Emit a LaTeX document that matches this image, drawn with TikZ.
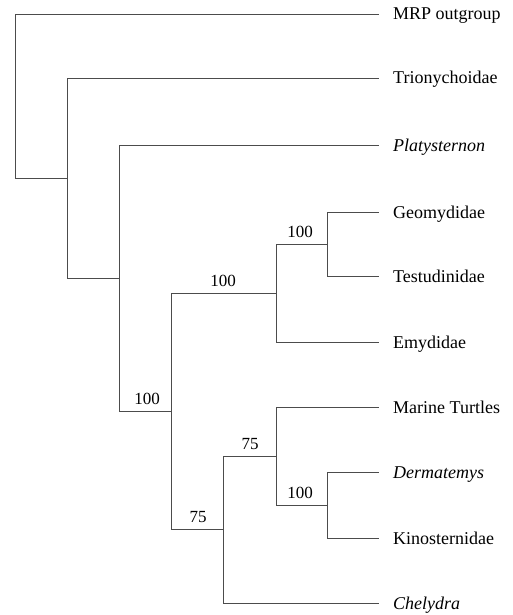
\documentclass[tikz,border=0pt]{standalone}
\usepackage{fontspec}
\setmainfont{Liberation Serif}
\begin{document}
\begin{tikzpicture}[x=1pt,y=-1pt,
  branch/.style={draw=black!70, line width=0.8pt},
  taxon/.style={anchor=base west, inner sep=0pt, font=\fontsize{18}{20}\selectfont},
  support/.style={anchor=base, inner sep=0pt, font=\fontsize{17}{19}\selectfont}]
\useasboundingbox (0,0) rectangle (513,615);
% leaf ends
\coordinate (cMRP) at (379,14);
\coordinate (cTri) at (379,78);
\coordinate (cPla) at (379,145);
\coordinate (cGeo) at (379,212);
\coordinate (cTes) at (379,276);
\coordinate (cEmy) at (379,342);
\coordinate (cMar) at (379,407);
\coordinate (cDer) at (379,472);
\coordinate (cKin) at (379,538);
\coordinate (cChe) at (379,603);
% internal nodes
\coordinate (nA) at (327,244);
\coordinate (nB) at (276,293);
\coordinate (nC) at (327,505);
\coordinate (nD) at (276,456);
\coordinate (nE) at (223,529.5);
\coordinate (nF) at (171,411);
\coordinate (nG) at (119,278);
\coordinate (nH) at (67,178);
\coordinate (root) at (15,96);
% taxa
\node[taxon] (tMRP) at (393,20) {MRP outgroup};
\node[taxon] (tTri) at (393,84) {Trionychoidae};
\node[taxon] (tPla) at (393,151) {\itshape Platysternon};
\node[taxon] (tGeo) at (393,218) {Geomydidae};
\node[taxon] (tTes) at (393,282) {Testudinidae};
\node[taxon] (tEmy) at (393,348) {Emydidae};
\node[taxon] (tMar) at (393,413) {Marine Turtles};
\node[taxon] (tDer) at (393,478) {\itshape Dermatemys};
\node[taxon] (tKin) at (393,544) {Kinosternidae};
\node[taxon] (tChe) at (393,609) {\itshape Chelydra};
% branches
\draw[branch] (root) |- (cMRP);
\draw[branch] (root) |- (nH);
\draw[branch] (nH) |- (cTri);
\draw[branch] (nH) |- (nG);
\draw[branch] (nG) |- (cPla);
\draw[branch] (nG) |- (nF);
\draw[branch] (nF) |- (nB);
\draw[branch] (nF) |- (nE);
\draw[branch] (nB) |- (nA);
\draw[branch] (nB) |- (cEmy);
\draw[branch] (nA) |- (cGeo);
\draw[branch] (nA) |- (cTes);
\draw[branch] (nE) |- (nD);
\draw[branch] (nE) |- (cChe);
\draw[branch] (nD) |- (cMar);
\draw[branch] (nD) |- (nC);
\draw[branch] (nC) |- (cDer);
\draw[branch] (nC) |- (cKin);
% support values
\node[support] (sB) at (223,286) {100};
\node[support] (sA) at (300,237) {100};
\node[support] (sF) at (147,404) {100};
\node[support] (sE) at (198,522) {75};
\node[support] (sD) at (250,449) {75};
\node[support] (sC) at (300,498) {100};
\end{tikzpicture}
\end{document}
